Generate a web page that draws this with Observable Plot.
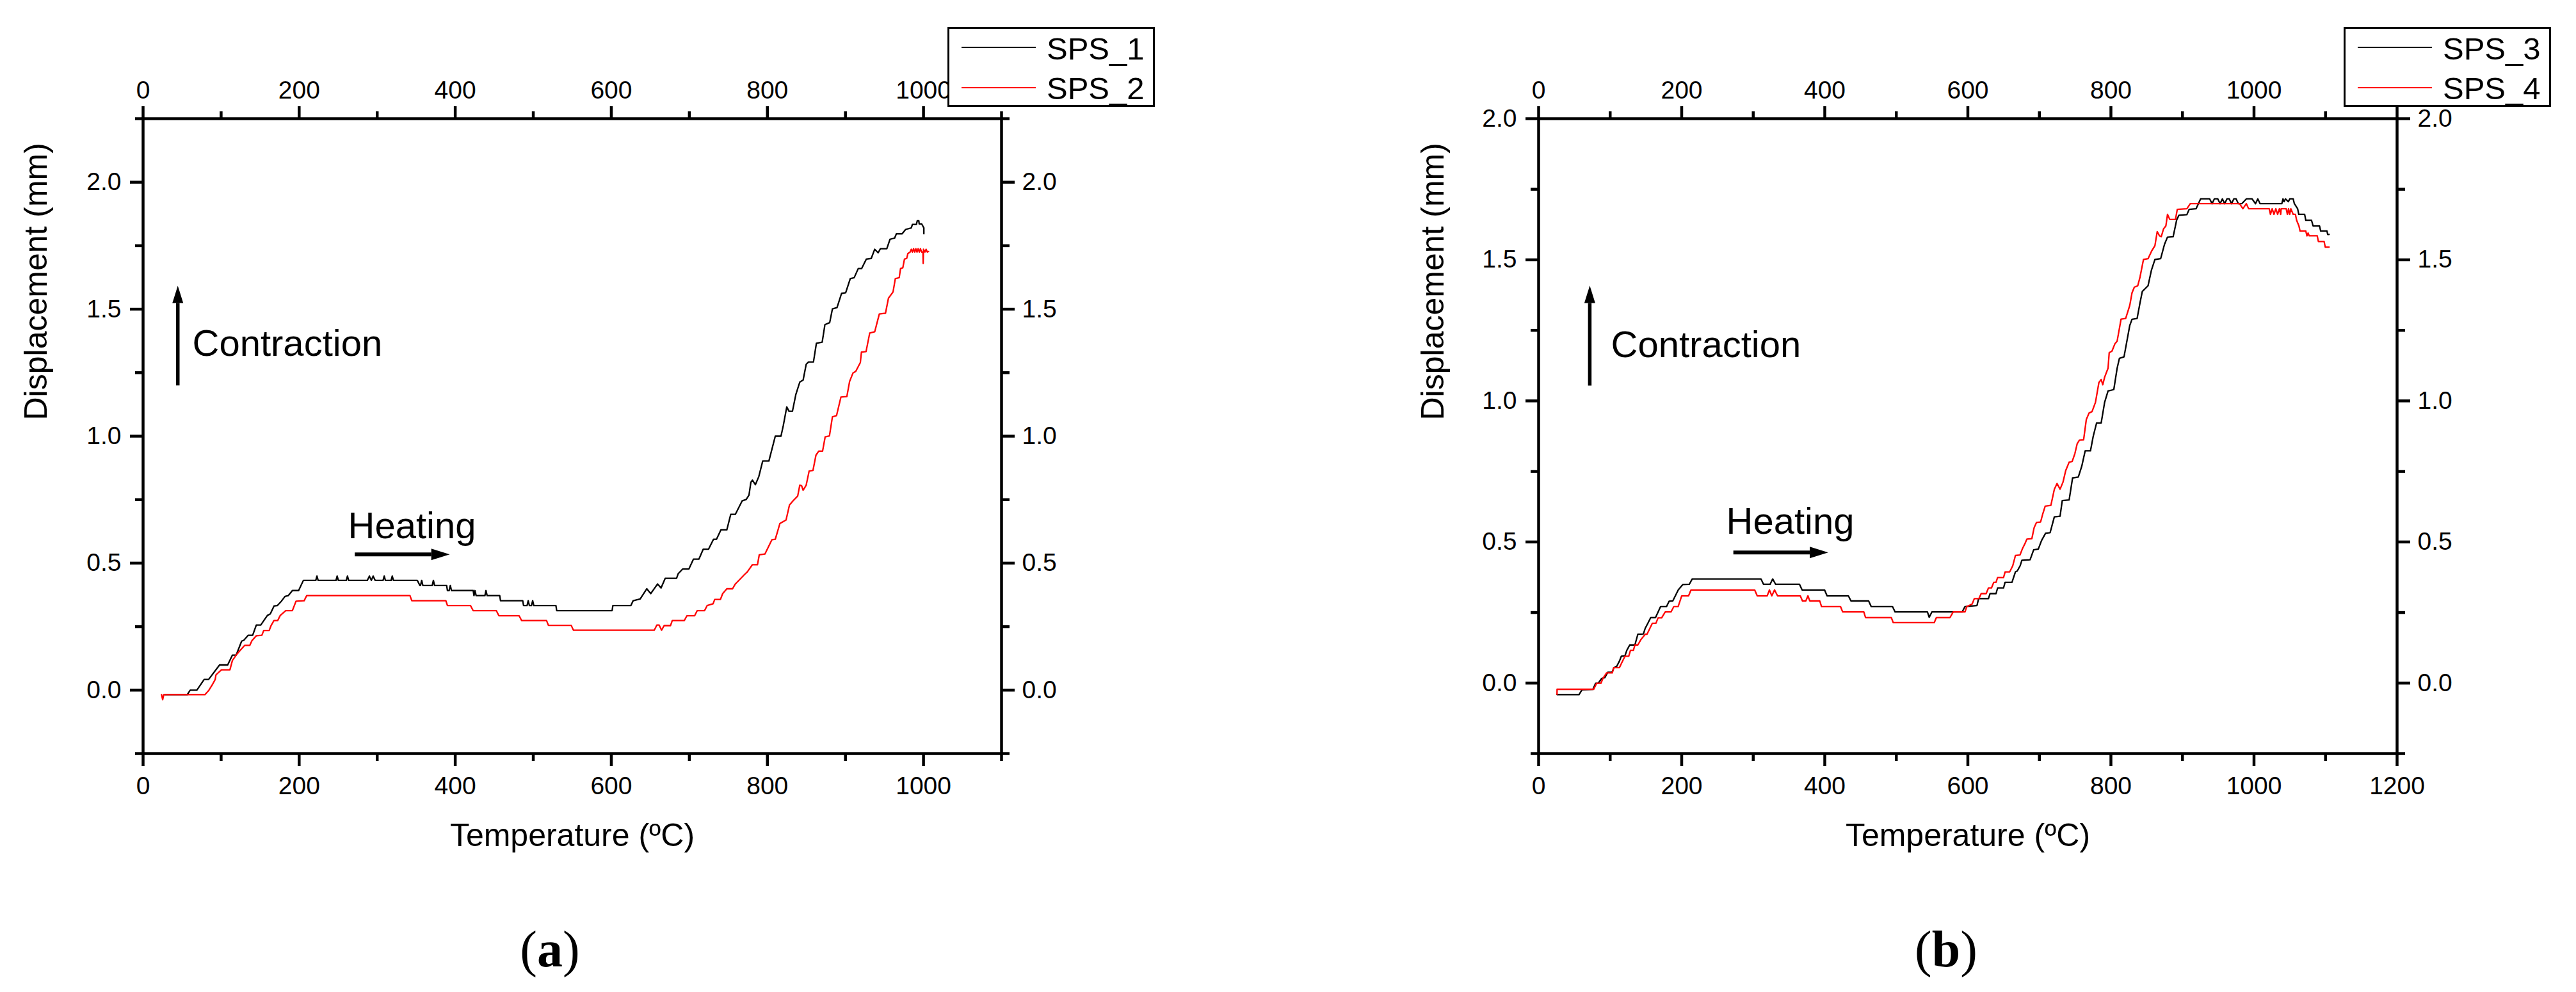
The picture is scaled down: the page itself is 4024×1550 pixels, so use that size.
<!DOCTYPE html>
<html><head><meta charset="utf-8">
<script src="https://cdn.jsdelivr.net/npm/d3@7"></script>
<script src="https://cdn.jsdelivr.net/npm/@observablehq/plot@0.6"></script>
<style>
html,body{margin:0;padding:0;background:#fff;}
#root{position:relative;width:4024px;height:1550px;overflow:hidden;font-family:"Liberation Sans",Arial,sans-serif;background:#fff;}
.panel{position:absolute;top:0;}
.panel svg{max-width:none;}
.legend{position:absolute;box-sizing:border-box;border:3px solid #000;background:#fff;}
.lg-line{position:absolute;height:2px;}
.lg-text{position:absolute;font-size:49px;line-height:49px;white-space:nowrap;color:#000;}
.cap{position:absolute;font-family:"Liberation Serif","Times New Roman",serif;font-size:80px;line-height:80px;transform:translate(-50%,-50%);white-space:nowrap;color:#000;}
</style></head><body><div id="root"></div>
<script>
// ---------- data (Temperature ºC, Displacement mm) ----------
const sps1 = [[28,-0.018],[56.6,-0.018],[60.4,0.000],[68.9,0.000],[78.3,0.042],[84,0.042],[98,0.099],[108.4,0.099],[114.5,0.138],[119.3,0.138],[126.3,0.193],[129,0.196],[134.8,0.216],[140.4,0.216],[145.1,0.256],[150.8,0.256],[155,0.275],[159.3,0.294],[163,0.300],[167.8,0.331],[172,0.333],[177.2,0.350],[181.9,0.369],[186,0.372],[191.3,0.392],[199.3,0.392],[205.4,0.432],
[221.3,0.432],[222.8,0.449],[224.3,0.432],[247.2,0.432],[248.7,0.449],[250.2,0.432],[260.4,0.432],[261.9,0.449],[263.4,0.432],
[287.3,0.432],[290,0.449],[292.5,0.432],[294.8,0.449],[297.5,0.432],[307.5,0.432],[309,0.449],[310.5,0.432],[317.8,0.432],[319.3,0.449],[320.8,0.432],
[351.4,0.432],[354.7,0.412],[355.5,0.412],[357,0.432],[358.5,0.412],[370.5,0.412],[372,0.432],[373.5,0.412],
[389,0.412],[390,0.392],[392.2,0.392],[393.7,0.412],[395.2,0.392],
[423,0.392],[424,0.372],[425.3,0.392],[426.8,0.372],[438,0.372],[439.4,0.392],[440.9,0.372],
[457,0.372],[458,0.352],[486.5,0.352],[487.5,0.333],[492,0.333],[493.5,0.352],[495,0.333],[497.7,0.333],[499.2,0.352],[500.7,0.333],
[529,0.333],[530,0.313],[601,0.313],[602,0.333],[625,0.333],[628,0.352],[637,0.359],
[645.5,0.399],[650.5,0.380],[659.3,0.418],[663.7,0.402],[669,0.440],[683.6,0.440],[685.6,0.458],[691.5,0.477],[699.4,0.477],[705.3,0.516],[712.3,0.516],[717.8,0.555],[724.6,0.555],[731,0.594],[734.8,0.594],[740.4,0.631],[748,0.631],[753,0.692],[758.9,0.692],[767.6,0.745],[772.9,0.751],[776.4,0.768],[778.8,0.818],[780.8,0.827],[784.6,0.809],[789,0.841],[794,0.902],[801.9,0.902],[810.1,1.000],[817.4,1.000],[820.4,1.042],[824.8,1.115],[827.7,1.098],[832.1,1.098],[836.5,1.165],[841.5,1.213],[845.8,1.221],[849.7,1.283],[852.6,1.292],[859,1.292],[862.8,1.366],[870.2,1.370],[873.7,1.439],[879.8,1.447],[883.3,1.501],[889.2,1.506],[895,1.562],[900.3,1.565],[906.2,1.620],[911.2,1.624],[916.4,1.660],[920.8,1.660],[926.7,1.697],[933.1,1.700],[937.5,1.736],[941.9,1.722],[944.8,1.738],[953,1.738],[957.1,1.775],[963,1.780],[965.3,1.797],[972.7,1.797],[977.1,1.814],[984.4,1.820],[985.8,1.834],[991,1.834],[992,1.848],[994,1.848],[994.5,1.836],[997.6,1.836],[1000.5,1.820],[1000.5,1.797]];

const sps2 = [[23.7,-0.018],[25.1,-0.038],[26.5,-0.018],[79.2,-0.018],[84,-0.002],[88.7,0.021],[92.4,0.042],[93.4,0.060],[100.4,0.080],[111.3,0.080],[114.5,0.117],[119.3,0.138],[124,0.155],[130.1,0.176],[136.7,0.176],[139.5,0.195],[145.1,0.214],[152.2,0.216],[154.6,0.235],[161.6,0.235],[164,0.254],[167.7,0.274],[172.5,0.274],[175.8,0.294],[182.8,0.313],[191.3,0.313],[196,0.350],[206.4,0.352],[209.6,0.372],[342,0.372],[344.3,0.352],[388,0.352],[390,0.333],[419.6,0.333],[422.9,0.313],[452.6,0.313],[455.9,0.293],[481.8,0.293],[485,0.274],[517,0.274],[519.4,0.255],[548.6,0.255],[551.5,0.236],[655,0.236],[658.3,0.256],[661.3,0.256],[664.4,0.236],[667.7,0.254],[675.8,0.254],[678.1,0.274],[693.6,0.274],[696.9,0.293],[706.8,0.293],[710.1,0.313],[719.5,0.313],[722.8,0.333],[730.4,0.340],[732.5,0.357],[739.8,0.357],[742.7,0.380],[748,0.399],[755.3,0.399],[758.9,0.418],[764.7,0.436],[770.6,0.455],[774.4,0.466],[780.8,0.494],[787.3,0.494],[789.6,0.533],[796.9,0.536],[805.7,0.592],[810.1,0.594],[816,0.656],[823.9,0.670],[828.3,0.729],[832.7,0.745],[838.8,0.764],[841.5,0.807],[843.8,0.805],[845.8,0.787],[849.7,0.807],[853.5,0.863],[858.4,0.865],[862.2,0.925],[865.8,0.941],[870.7,0.941],[874,0.997],[879.5,1.001],[883.3,1.076],[888.6,1.081],[894.2,1.154],[901.8,1.156],[905.3,1.215],[909.7,1.249],[913.2,1.255],[919.1,1.290],[920.5,1.331],[926.4,1.333],[931.1,1.406],[937.5,1.411],[943.4,1.481],[951.3,1.484],[955.1,1.543],[961,1.568],[963.9,1.620],[968.9,1.624],[970.6,1.660],[973.5,1.663],[975.6,1.697],[978.5,1.700],[980,1.719],[982.9,1.725],[984.4,1.736],[985.8,1.725],[987.3,1.738],[988.8,1.725],[990.2,1.738],[991.7,1.725],[993.1,1.738],[994.6,1.725],[996.1,1.738],[997.6,1.725],[999.3,1.725],[999.6,1.680],[1000,1.736],[1001.9,1.725],[1003.4,1.736],[1004.9,1.725],[1006.4,1.727]];

const sps3 = [[25.7,-0.041],[56.5,-0.041],[60.6,-0.024],[76,-0.022],[79.6,-0.001],[83.2,-0.001],[88.4,0.017],[92.5,0.019],[96.6,0.038],[102.7,0.038],[105.3,0.055],[108.9,0.058],[113,0.078],[115.6,0.095],[120.7,0.097],[123.3,0.116],[127.4,0.135],[134.6,0.135],[138.7,0.173],[146.4,0.174],[149,0.194],[153.1,0.214],[156.7,0.232],[163.4,0.232],[167,0.252],[170.5,0.271],[178.8,0.271],[182.4,0.290],[187.5,0.291],[191.1,0.309],[195.2,0.330],[201.4,0.349],[210.6,0.350],[214.7,0.369],[310.8,0.369],[314.4,0.350],[323.6,0.350],[327.2,0.369],[331.3,0.350],[364.7,0.350],[368.3,0.330],[399.7,0.330],[403.2,0.309],[433,0.309],[436.6,0.291],[461.3,0.291],[464.9,0.271],[494.7,0.271],[498.3,0.252],[543.5,0.252],[546,0.233],[549.7,0.252],[592,0.252],[596,0.271],[612.8,0.275],[615,0.299],[628.8,0.299],[631,0.317],[639.4,0.317],[641.6,0.337],[649.9,0.337],[652,0.357],[661.7,0.357],[666.5,0.394],[669,0.397],[673,0.415],[675.5,0.435],[687,0.437],[692,0.472],[698.5,0.475],[703,0.505],[708.7,0.531],[715,0.533],[720.9,0.589],[728.9,0.591],[732,0.647],[741.6,0.649],[746.4,0.727],[754.4,0.730],[759.2,0.768],[764,0.823],[771.4,0.823],[775.2,0.874],[780,0.922],[786.4,0.922],[791.2,0.995],[796,1.035],[804,1.040],[808.7,1.116],[811.9,1.151],[818.3,1.156],[826.3,1.267],[829.5,1.289],[836.6,1.292],[840.7,1.348],[843.9,1.388],[851.9,1.408],[856.7,1.464],[861.5,1.501],[869.5,1.504],[874.9,1.555],[879,1.580],[887,1.582],[891.9,1.641],[895.1,1.658],[906.2,1.660],[909.4,1.679],[919,1.681],[925.4,1.716],[938,1.716],[941.4,1.699],[944.6,1.716],[949.4,1.716],[952.6,1.699],[955.8,1.716],[959,1.699],[962.2,1.716],[965.4,1.716],[968.6,1.699],[971.8,1.716],[975,1.716],[978.1,1.699],[982.9,1.699],[989.3,1.716],[997.3,1.716],[1002.1,1.699],[1005.3,1.716],[1008.5,1.699],[1038.9,1.699],[1040.5,1.716],[1042,1.706],[1044,1.716],[1048,1.706],[1050,1.716],[1054.8,1.716],[1056.4,1.699],[1061,1.681],[1062.6,1.661],[1070.8,1.661],[1072.4,1.640],[1080.4,1.640],[1082.6,1.620],[1091.6,1.620],[1093.2,1.602],[1102,1.602],[1103,1.590],[1105,1.590]];

const sps4 = [[25.7,-0.040],[25.8,-0.022],[77,-0.022],[81,-0.001],[87,-0.001],[90,0.017],[95,0.036],[103,0.036],[105,0.055],[113,0.055],[117,0.076],[120.7,0.095],[126,0.095],[128.4,0.116],[132.5,0.116],[134.6,0.135],[138.7,0.135],[143,0.154],[149,0.173],[151.5,0.173],[155,0.191],[159,0.212],[164,0.212],[167,0.231],[172,0.231],[177,0.252],[185,0.252],[189,0.271],[195,0.271],[200,0.309],[209.6,0.309],[213,0.330],[302,0.330],[305.6,0.309],[319.5,0.309],[322.6,0.330],[326,0.309],[329.8,0.330],[334,0.309],[365.8,0.309],[368.8,0.291],[373.5,0.291],[376.5,0.309],[379,0.291],[393,0.291],[395.5,0.271],[422,0.271],[425,0.252],[454.6,0.252],[457,0.232],[493,0.232],[495.7,0.214],[553,0.214],[556,0.232],[575,0.232],[579.5,0.252],[596,0.252],[598.5,0.271],[606,0.280],[609,0.299],[615.4,0.299],[618.6,0.317],[625.6,0.317],[628.8,0.337],[633,0.337],[636.2,0.357],[639.4,0.357],[641.6,0.374],[649.9,0.374],[652.1,0.394],[658.5,0.394],[662.7,0.415],[666.5,0.452],[672.9,0.454],[676.1,0.475],[680,0.495],[682.5,0.510],[689.5,0.512],[692.7,0.551],[695.9,0.569],[701.7,0.571],[704.9,0.601],[708.1,0.627],[716.1,0.630],[720.9,0.687],[724.7,0.707],[728.9,0.687],[733,0.712],[736.8,0.753],[741.6,0.783],[745.8,0.785],[749.6,0.813],[752.8,0.848],[756,0.861],[761.8,0.862],[765.6,0.934],[769.4,0.957],[773.6,0.962],[778.4,0.995],[783.2,1.065],[786.4,1.076],[788.6,1.057],[791.2,1.084],[796,1.116],[797.6,1.171],[801.4,1.176],[805.5,1.202],[808.7,1.212],[814.2,1.290],[820.6,1.292],[826.3,1.338],[829.5,1.383],[832.7,1.403],[837.5,1.408],[840.7,1.439],[845.5,1.501],[851.9,1.504],[856.7,1.530],[861.5,1.550],[864.7,1.600],[867.9,1.585],[870.4,1.582],[873.6,1.610],[876.8,1.620],[879.1,1.661],[882.3,1.643],[890.2,1.643],[892.8,1.679],[906.2,1.681],[911,1.699],[979.7,1.699],[984.5,1.681],[989.3,1.699],[992.5,1.681],[1021.3,1.681],[1023,1.661],[1025.4,1.681],[1027.9,1.661],[1030.5,1.681],[1033,1.661],[1035.5,1.681],[1037.3,1.661],[1038,1.681],[1045,1.681],[1046.7,1.661],[1048.3,1.681],[1049.9,1.661],[1051.5,1.681],[1054.8,1.661],[1057.9,1.661],[1059.6,1.640],[1062.8,1.620],[1064.4,1.602],[1072.4,1.602],[1074,1.585],[1075.6,1.595],[1077.2,1.585],[1088.4,1.585],[1090,1.565],[1098,1.565],[1099.6,1.545],[1105,1.545]];

// ---------- tick values & labels ----------
const xTicksA = [0, 200, 400, 600, 800, 1000];
const xMinorA = [100, 300, 500, 700, 900, 1100];
const xTicksB = [0, 200, 400, 600, 800, 1000, 1200];
const xMinorB = [100, 300, 500, 700, 900, 1100];
const yTicks = [0, 0.5, 1.0, 1.5, 2.0];
const yMinorA = [-0.25, 0.25, 0.75, 1.25, 1.75, 2.25];
const yMinorB = [-0.25, 0.25, 0.75, 1.25, 1.75];
const seriesNamesA = ["SPS_1", "SPS_2"];
const seriesNamesB = ["SPS_3", "SPS_4"];
const xTitle = "Temperature (ºC)";
const yTitle = "Displacement (mm)";
const labelContraction = "Contraction";
const labelHeating = "Heating";

// annotation anchors (data coordinates)
const annA = {cx: 44.5, cy0: 1.200, cy1: 1.524, ctx: 63.2, cty: 1.362, hx0: 271.3, hx1: 369.3, hy: 0.5345, htx: 262.5, hty: 0.645};
const annB = {cx: 71.5, cy0: 1.054, cy1: 1.347, ctx: 101.2, cty: 1.197, hx0: 272.2, hx1: 379.0, hy: 0.463, htx: 262.2, hty: 0.571};

// slender filled arrow head, origin at base centre, pointing up
const head = {draw(ctx, size) {
  const r = Math.sqrt(size / Math.PI);
  const L = 1.6 * r, w = 0.5 * r;
  ctx.moveTo(0, -L); ctx.lineTo(w, 0); ctx.lineTo(-w, 0); ctx.closePath();
}};

const fmtY = d3.format(".1f");
const fmtX = d => String(d);

function panel({s1, s2, xDomain, yDomain, xTicks, xMinor, yMinor, marginLeft, marginRight, ann, yTitleDx}) {
  const ax = {strokeWidth: 4.5, label: null, stroke: "black", fill: "black"};
  return Plot.plot({
    width: 2012, height: 1550,
    marginLeft, marginRight, marginTop: 185, marginBottom: 373,
    x: {domain: xDomain},
    y: {domain: yDomain},
    style: {fontFamily: "'Liberation Sans', Arial, sans-serif", fontSize: "39px", color: "black", background: "transparent", overflow: "visible"},
    marks: [
      Plot.line(s1, {x: d => d[0], y: d => d[1], stroke: "black", strokeWidth: 2.3}),
      Plot.line(s2, {x: d => d[0], y: d => d[1], stroke: "#ff0000", strokeWidth: 2.3}),
      Plot.frame({stroke: "black", strokeWidth: 4.5}),
      Plot.axisX(xTicks, {...ax, anchor: "bottom", tickSize: 20, tickPadding: 16, tickFormat: fmtX}),
      Plot.axisX(xMinor, {...ax, anchor: "bottom", tickSize: 12, tickFormat: () => ""}),
      Plot.axisX(xTicks, {...ax, anchor: "top", tickSize: 20, tickPadding: 12, tickFormat: fmtX}),
      Plot.axisX(xMinor, {...ax, anchor: "top", tickSize: 12, tickFormat: () => ""}),
      Plot.axisY(yTicks, {...ax, anchor: "left", tickSize: 20, tickPadding: 14, tickFormat: fmtY}),
      Plot.axisY(yMinor, {...ax, anchor: "left", tickSize: 12, tickFormat: () => ""}),
      Plot.axisY(yTicks, {...ax, anchor: "right", tickSize: 20, tickPadding: 12, tickFormat: fmtY}),
      Plot.axisY(yMinor, {...ax, anchor: "right", tickSize: 12, tickFormat: () => ""}),
      // Contraction arrow
      Plot.link([ann], {x1: d => d.cx, x2: d => d.cx, y1: d => d.cy0, y2: d => d.cy1, stroke: "black", strokeWidth: 5.5}),
      Plot.dot([ann], {x: d => d.cx, y: d => d.cy1, symbol: head, r: 17, fill: "black", stroke: "none"}),
      Plot.text([labelContraction], {x: ann.ctx, y: ann.cty, text: d => d, textAnchor: "start", lineAnchor: "middle", fontSize: 58}),
      // Heating arrow
      Plot.link([ann], {x1: d => d.hx0, x2: d => d.hx1, y1: d => d.hy, y2: d => d.hy, stroke: "black", strokeWidth: 6}),
      Plot.dot([ann], {x: d => d.hx1, y: d => d.hy, symbol: head, r: 18, rotate: 90, fill: "black", stroke: "none"}),
      Plot.text([labelHeating], {x: ann.htx, y: ann.hty, text: d => d, textAnchor: "start", lineAnchor: "middle", fontSize: 58}),
      // axis titles
      Plot.text([xTitle], {frameAnchor: "bottom", dy: 128, text: d => d, lineAnchor: "middle", fontSize: 50}),
      Plot.text([yTitle], {frameAnchor: "left", dx: yTitleDx, dy: -25, rotate: -90, text: d => d, lineAnchor: "middle", fontSize: 50})
    ]
  });
}

const root = document.getElementById("root");

function place(el, left) {
  const wrap = document.createElement("div");
  wrap.className = "panel";
  wrap.style.left = left + "px";
  wrap.appendChild(el);
  root.appendChild(wrap);
}

place(panel({s1: sps1, s2: sps2, xDomain: [0, 1100], yDomain: [-0.25, 2.25], xTicks: xTicksA, xMinor: xMinorA, yMinor: yMinorA, marginLeft: 223, marginRight: 448, ann: annA, yTitleDx: -167}), 0);
place(panel({s1: sps3, s2: sps4, xDomain: [0, 1200], yDomain: [-0.25, 2.0], xTicks: xTicksB, xMinor: xMinorB, yMinor: yMinorB, marginLeft: 391, marginRight: 280, ann: annB, yTitleDx: -165}), 2012);

function legend(left, names) {
  const box = document.createElement("div");
  box.className = "legend";
  Object.assign(box.style, {left: left + "px", top: "42px", width: "324px", height: "125px"});
  root.appendChild(box);
  const colors = ["#000000", "#ff0000"];
  const lineTops = [73.3, 136.3];
  const textTops = [51.8, 113.5];
  names.forEach((n, i) => {
    const ln = document.createElement("div");
    ln.className = "lg-line";
    Object.assign(ln.style, {left: (left + 22) + "px", top: lineTops[i] + "px", width: "116px", background: colors[i]});
    root.appendChild(ln);
    const tx = document.createElement("div");
    tx.className = "lg-text";
    Object.assign(tx.style, {left: (left + 155) + "px", top: textTops[i] + "px"});
    tx.textContent = n;
    root.appendChild(tx);
  });
}
legend(1480, seriesNamesA);
legend(3661, seriesNamesB);

function caption(cx, letter) {
  const c = document.createElement("div");
  c.className = "cap";
  Object.assign(c.style, {left: cx + "px", top: "1483px"});
  c.append("(");
  const b = document.createElement("b");
  b.textContent = letter;
  c.appendChild(b);
  c.append(")");
  root.appendChild(c);
}
caption(859, "a");
caption(3040, "b");
</script></body></html>
